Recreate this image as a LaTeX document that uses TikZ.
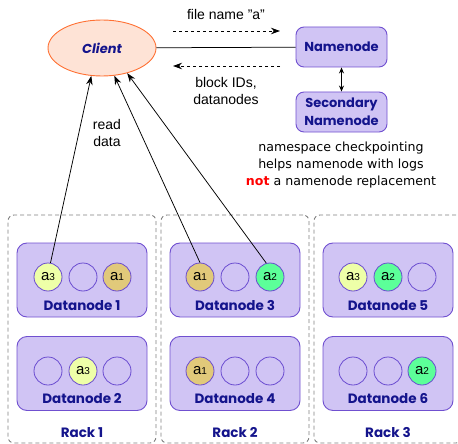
\documentclass[tikz,border=0pt]{standalone}
\usepackage{fontspec}
\setmainfont{Liberation Sans}
\newfontfamily\labelfont{Poppins}
\newfontfamily\notefont{DejaVu Sans}
\usetikzlibrary{arrows.meta,shapes.geometric}

\definecolor{lav}{HTML}{D0C4F4}
\definecolor{lavedge}{HTML}{7050D0}
\definecolor{circedge}{HTML}{6A4CD0}
\definecolor{navy}{HTML}{14148C}
\definecolor{clientfill}{HTML}{FEE3D6}
\definecolor{clientedge}{HTML}{FF7033}
\definecolor{blkone}{HTML}{E1C97A}
\definecolor{blktwo}{HTML}{5CFF99}
\definecolor{blkthree}{HTML}{EEFFA8}
\definecolor{rackedge}{HTML}{808080}
\definecolor{notred}{HTML}{FF0000}

% block replica label: "a" with a small index digit
\newcommand\replica[1]{{\fontsize{15}{15}\selectfont a{\fontsize{10}{10}\selectfont #1}}}

\tikzset{
  lbl/.style={font=\labelfont\bfseries\fontsize{13.5}{15}\selectfont, text=navy, inner sep=0},
  dnbox/.style={draw=lavedge, fill=lav, line width=0.9pt, rounded corners=10pt,
    minimum width=130pt, minimum height=74pt, inner sep=0},
  nnbox/.style={draw=lavedge, fill=lav, line width=0.9pt, rounded corners=8pt,
    minimum width=91pt, minimum height=40pt, inner sep=0, align=center,
    font=\labelfont\bfseries\fontsize{13}{18}\selectfont, text=navy},
  blk/.style={circle, draw=circedge, line width=0.8pt, fill=lav,
    minimum size=28pt, inner sep=0},
  rackbox/.style={draw=rackedge, line width=0.9pt, dash pattern=on 4pt off 3pt,
    rounded corners=6pt, minimum width=148pt, minimum height=228pt, inner sep=0},
  plain/.style={font=\fontsize{14}{17}\selectfont, align=center, inner sep=0},
  readarrow/.style={-{Stealth[length=9pt,width=6.5pt]}, line width=0.75pt},
  dasharrow/.style={-{Stealth[length=9pt,width=6.5pt]}, line width=0.75pt,
    dash pattern=on 3pt off 3pt},
}

\begin{document}
\begin{tikzpicture}[x=1pt,y=-1pt]
\useasboundingbox (0,0) rectangle (458,444);

% racks
\node[rackbox] (rack1) at (82,329) {};
\node[rackbox] (rack2) at (235,329) {};
\node[rackbox] (rack3) at (388,329) {};
\node[lbl] (rack1lab) at (82,433) {Rack 1};
\node[lbl] (rack2lab) at (235,433) {Rack 2};
\node[lbl] (rack3lab) at (388,433) {Rack 3};

% datanodes
\node[dnbox] (dn1) at (82,280) {};
\node[dnbox] (dn2) at (82,373.5) {};
\node[dnbox] (dn3) at (235,280) {};
\node[dnbox] (dn4) at (235,373.5) {};
\node[dnbox] (dn5) at (388,280) {};
\node[dnbox] (dn6) at (388,373.5) {};
\node[lbl] (dn1lab) at (82,306) {Datanode 1};
\node[lbl] (dn2lab) at (82,399) {Datanode 2};
\node[lbl] (dn3lab) at (235,306) {Datanode 3};
\node[lbl] (dn4lab) at (235,399) {Datanode 4};
\node[lbl] (dn5lab) at (388,306) {Datanode 5};
\node[lbl] (dn6lab) at (388,399) {Datanode 6};

% block slots
\node[blk, fill=blkthree] (b1a) at (48,277) {\replica{3}};
\node[blk] (b1b) at (83,277) {};
\node[blk, fill=blkone] (b1c) at (117,277) {\replica{1}};
\node[blk] (b2a) at (48,371) {};
\node[blk, fill=blkthree] (b2b) at (83,371) {\replica{3}};
\node[blk] (b2c) at (117,371) {};

\node[blk, fill=blkone] (b3a) at (200,277) {\replica{1}};
\node[blk] (b3b) at (235,277) {};
\node[blk, fill=blktwo] (b3c) at (270,277) {\replica{2}};
\node[blk, fill=blkone] (b4a) at (200,371) {\replica{1}};
\node[blk] (b4b) at (235,371) {};
\node[blk] (b4c) at (270,371) {};

\node[blk, fill=blkthree] (b5a) at (353,277) {\replica{3}};
\node[blk, fill=blktwo] (b5b) at (388,277) {\replica{2}};
\node[blk] (b5c) at (422,277) {};
\node[blk] (b6a) at (353,371) {};
\node[blk] (b6b) at (388,371) {};
\node[blk, fill=blktwo] (b6c) at (422,371) {\replica{2}};

% client and namenodes
\node[ellipse, draw=clientedge, fill=clientfill, line width=0.9pt,
  minimum width=108pt, minimum height=56pt, inner sep=0,
  font=\labelfont\bfseries\itshape\fontsize{13}{15}\selectfont, text=navy]
  (client) at (102,48) {Client};
\node[nnbox] (nn) at (341.5,47) {Namenode};
\node[nnbox] (snn) at (341.5,112) {Secondary\\Namenode};

\draw[line width=0.75pt] (client) -- (nn);
\draw[{Stealth[length=6pt,width=5pt]}-{Stealth[length=6pt,width=5pt]}, line width=0.75pt]
  (nn) -- (snn);

% metadata exchange
\coordinate (fnstart) at (173,31);
\coordinate (fnend) at (280,31);
\coordinate (bistart) at (280,66);
\coordinate (biend) at (173,66);
\draw[dasharrow] (fnstart) -- (fnend);
\draw[dasharrow] (bistart) -- (biend);
\node[plain] (fnlab) at (226,14) {file name "a"};
\node[plain] (bilab) at (226,91) {block IDs,\\datanodes};

% reads straight from the datanodes
\draw[readarrow] (b1a.80) -- (client.-111);
\draw[readarrow] (b3a.north) -- (client.-66);
\draw[readarrow] (b3c.105) -- (client.-45);
\node[plain] (readlab) at (107,133) {read\\data};

% note on the secondary namenode
\node[font=\notefont\fontsize{12.6}{17}\selectfont, align=center, inner sep=0]
  (note) at (341,165)
  {namespace checkpointing\\helps namenode with logs\\
   {\bfseries\color{notred}not} a namenode replacement};
\end{tikzpicture}
\end{document}
